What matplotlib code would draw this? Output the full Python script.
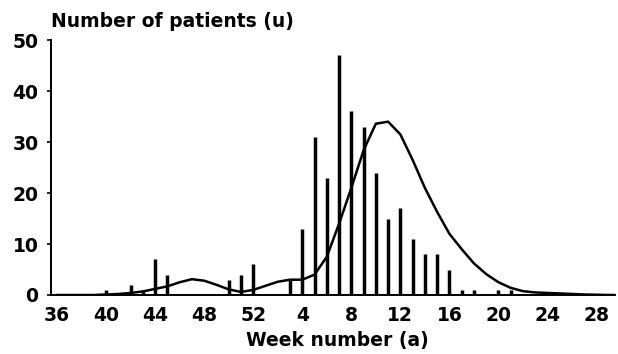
import numpy as np
import matplotlib.pyplot as plt

# Weeks run from week 36 of one year into week 30 of the next
def season_index(week):
    return week - 36 if week >= 36 else week + 16

# Bars: number of patients (u)
bar_weeks = [40, 42, 43, 44, 45, 50, 51, 52, 3, 4, 5, 6, 7, 8, 9, 10, 11, 12,
             13, 14, 15, 16, 17, 18, 20, 21]
bar_counts = [1, 2, 1, 7, 4, 3, 4, 6, 3, 13, 31, 23, 47, 36, 33, 24, 15, 17,
              11, 8, 8, 5, 1, 1, 1, 1]

# Curve (a)
curve_weeks = [36, 37, 38, 39, 40, 41, 42, 43, 44, 45, 46, 47, 48, 49, 50, 51,
               52, 1, 2, 3, 4, 5, 6, 7, 8, 9, 10, 11, 12, 13, 14, 15, 16, 17,
               18, 19, 20, 21, 22, 23, 24, 25, 26, 27, 28, 29, 30]
curve_values = [0, 0, 0, 0, 0.1, 0.2, 0.4, 0.7, 1.2, 1.7, 2.5, 3.1, 2.8, 2.0,
                1.1, 0.6, 1.0, 1.8, 2.6, 3.0, 3.0, 4.0, 7.5, 14, 21, 28.4,
                33.6, 34, 31.5, 26.5, 21, 16.3, 12, 9, 6.2, 4.1, 2.5, 1.4,
                0.75, 0.5, 0.4, 0.3, 0.2, 0.1, 0.05, 0, 0]

tick_labels = ['36', '40', '44', '48', '52', '4', '8', '12', '16', '20', '24', '28']

plt.rcParams['font.family'] = 'DejaVu Sans'
plt.rcParams['font.weight'] = 'bold'
plt.rcParams['font.size'] = 13.5

fig = plt.figure(figsize=(6.18, 3.54), dpi=100)
ax = fig.add_axes([0.0825, 0.1667, 0.9125, 0.72])

bx = [season_index(w) for w in bar_weeks]
cx = [season_index(w) for w in curve_weeks]
ax.vlines(bx, 0, bar_counts, color='black', linewidth=2.5)
ax.plot(cx, curve_values, color='black', linewidth=1.8)

ax.set_xlim(-0.5, 45.5)
ax.set_ylim(0, 50)
ax.set_yticks(np.arange(0, 51, 10))
ax.set_xticks([season_index(int(t)) if int(t) >= 36 else int(t) + 16 for t in tick_labels])
ax.set_xticklabels(tick_labels)
ax.tick_params(axis='x', length=0, pad=8)
ax.tick_params(axis='y', length=3, width=1.2, pad=6)
for s in ['top', 'right']:
    ax.spines[s].set_visible(False)
for s in ['left', 'bottom']:
    ax.spines[s].set_linewidth(1.4)

fig.text(51 / 618, 1 - 27 / 354, 'Number of patients (u)', ha='left', va='baseline')
fig.text(337 / 618, 1 - 346 / 354, 'Week number (a)', ha='center', va='baseline')

plt.savefig('out.png', dpi=100)
